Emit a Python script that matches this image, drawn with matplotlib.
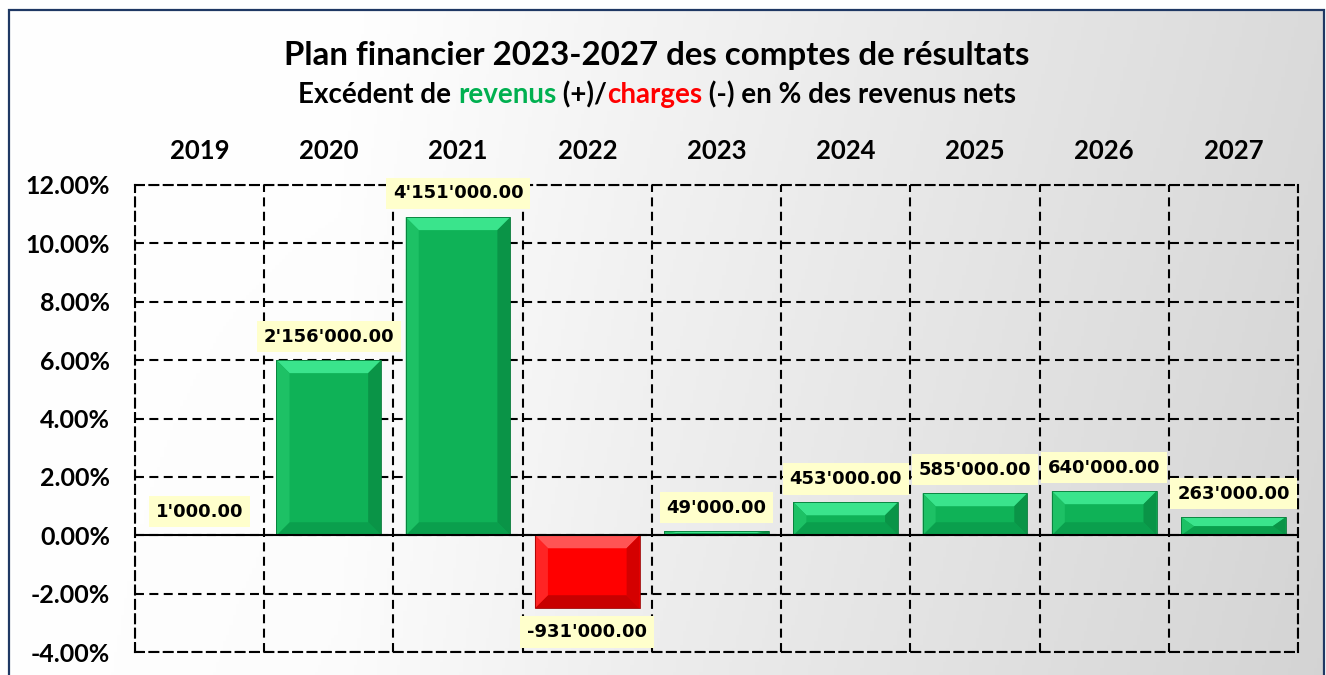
import matplotlib
matplotlib.use('Agg')
import matplotlib.pyplot as plt
import numpy as np
from matplotlib.patches import Polygon, Rectangle

# ---------------- data ----------------
years = ['2019', '2020', '2021', '2022', '2023', '2024', '2025', '2026', '2027']
pct_values = [0.003, 6.00, 10.90, -2.50, 0.14, 1.13, 1.44, 1.51, 0.62]
amount_labels = ["1'000.00", "2'156'000.00", "4'151'000.00", "-931'000.00", "49'000.00",
                 "453'000.00", "585'000.00", "640'000.00", "263'000.00"]
y_ticks = [-4, -2, 0, 2, 4, 6, 8, 10, 12]

title = "Plan financier 2023-2027 des comptes de résultats"
subtitle_parts = [("Excédent de ", "black"), ("revenus", "#00b050"), (" (+)/", "black"),
                  ("charges", "#ff0000"), (" (-) en % des revenus nets", "black")]

# ---------------- figure ----------------
W, H = 1326, 675
fig = plt.figure(figsize=(W / 100, H / 100), dpi=100)

# background gradient
bg = fig.add_axes([0, 0, 1, 1])
bg.set_axis_off()
xx = np.linspace(0, 1, 400)[None, :]
yy = np.linspace(0, 1, 200)[:, None]
t = np.clip((xx - 0.25) / 0.75, 0, 1) * 0.85 + (yy * 0.15) * np.clip(xx * 2, 0, 1)
shade = 1 - 0.17 * t
img = np.dstack([shade, shade, shade])
bg.imshow(img, extent=[9 / W, 1324 / W, -0.01, 1 - 10 / H], aspect='auto', origin='upper', zorder=0)
bg.set_xlim(0, 1)
bg.set_ylim(0, 1)
bg.add_patch(Rectangle((9 / W, -0.02), (1324 - 9) / W, 1 - 10 / H + 0.02, fill=False,
                       edgecolor='#1f3864', lw=1.6, zorder=2))

# main axes
ax = fig.add_axes([135 / W, 1 - 652 / H, (1298 - 135) / W, (652 - 185) / H])
ax.set_facecolor('none')
ax.set_xlim(-0.5, len(years) - 0.5)
ax.set_ylim(-4, 12)

dash = (0, (4.3, 2.6))
ax.set_yticks(y_ticks)
ax.set_yticklabels([f"{v:.2f}%" for v in y_ticks])
ax.set_xticks(range(len(years)))
ax.set_xticklabels(years)
ax.set_xticks(np.arange(-0.5, len(years), 1), minor=True)
ax.xaxis.tick_top()
ax.tick_params(axis='both', which='both', length=0)
ax.tick_params(axis='y', pad=18)
ax.tick_params(axis='x', pad=16)
for lab in ax.get_yticklabels():
    lab.set_fontfamily('Lato')
    lab.set_fontweight('bold')
    lab.set_fontsize(18)
for lab in ax.get_xticklabels():
    lab.set_fontfamily('Lato')
    lab.set_fontweight('bold')
    lab.set_fontsize(18.5)

ax.grid(axis='y', which='major', color='black', lw=1.5, linestyle=dash, zorder=1)
ax.grid(axis='x', which='minor', color='black', lw=1.5, linestyle=dash, zorder=1)
ax.grid(axis='x', which='major', visible=False)
for sp in ax.spines.values():
    sp.set_linestyle(dash)
    sp.set_linewidth(1.5)
    sp.set_color('black')
ax.set_axisbelow(True)

# bars
bar_w = 0.81
colors = ['#0fb257' if v >= 0 else '#ff0000' for v in pct_values]
bars = ax.bar(range(len(years)), pct_values, width=bar_w, color=colors, zorder=3, lw=0)

# bevel effect derived from bar geometry
ax_w_px = (1298 - 135)
ax_h_px = (652 - 185)
px_x = ax_w_px / len(years)          # pixels per x unit
px_y = ax_h_px / 16.0                # pixels per y unit
bev = 13
for b, v in zip(bars, pct_values):
    x0 = b.get_x()
    x1 = x0 + b.get_width()
    y0 = min(b.get_y(), b.get_y() + b.get_height())
    y1 = max(b.get_y(), b.get_y() + b.get_height())
    hpx = (y1 - y0) * px_y
    if hpx < 0.5:
        continue
    bx = bev / px_x
    by = min(bev, hpx / 2) / px_y
    if v >= 0:
        ctop, cleft, cright, cbot, cedge = '#3ae48c', '#1dc165', '#0a9447', '#0a9f4d', '#067a38'
    else:
        ctop, cleft, cright, cbot, cedge = '#ff5454', '#ff2424', '#d40000', '#c80000', '#a00000'
    polys = [
        ([(x0, y1), (x1, y1), (x1 - bx, y1 - by), (x0 + bx, y1 - by)], ctop),
        ([(x0, y0), (x1, y0), (x1 - bx, y0 + by), (x0 + bx, y0 + by)], cbot),
        ([(x0, y0), (x0, y1), (x0 + bx, y1 - by), (x0 + bx, y0 + by)], cleft),
        ([(x1, y0), (x1, y1), (x1 - bx, y1 - by), (x1 - bx, y0 + by)], cright),
    ]
    for pts, c in polys:
        ax.add_patch(Polygon(pts, closed=True, facecolor=c, edgecolor='none', zorder=3.5))
    ax.add_patch(Rectangle((x0, y0), x1 - x0, y1 - y0, fill=False, edgecolor=cedge,
                           lw=0.6, zorder=3.6))

ax.axhline(0, color='black', lw=1.5, zorder=4)

# data labels
for i, (v, lab) in enumerate(zip(pct_values, amount_labels)):
    off = 17 if v >= 0 else -17
    ax.annotate(lab, xy=(i, v), xytext=(0, off), textcoords='offset points',
                ha='center', va='center', fontsize=13, fontweight='bold',
                family='DejaVu Sans', color='black', zorder=6,
                bbox=dict(boxstyle='square,pad=0.38', fc='#ffffcc', ec='none'))

# titles
fig.text(657 / W, 1 - 55 / H, title, ha='center', va='center', fontsize=23.8,
         fontweight='bold', family='Lato', color='black')

renderer = fig.canvas.get_renderer()
texts = []
for s, c in subtitle_parts:
    tt = fig.text(0, 1 - 95 / H, s, ha='left', va='center', fontsize=20,
                  fontweight='bold', family='Lato', color=c)
    texts.append(tt)
widths = [tt.get_window_extent(renderer).width for tt in texts]
total = sum(widths)
x = 657 - total / 2
for tt, w in zip(texts, widths):
    tt.set_x(x / W)
    x += w

fig.savefig('out.png', dpi=100)
